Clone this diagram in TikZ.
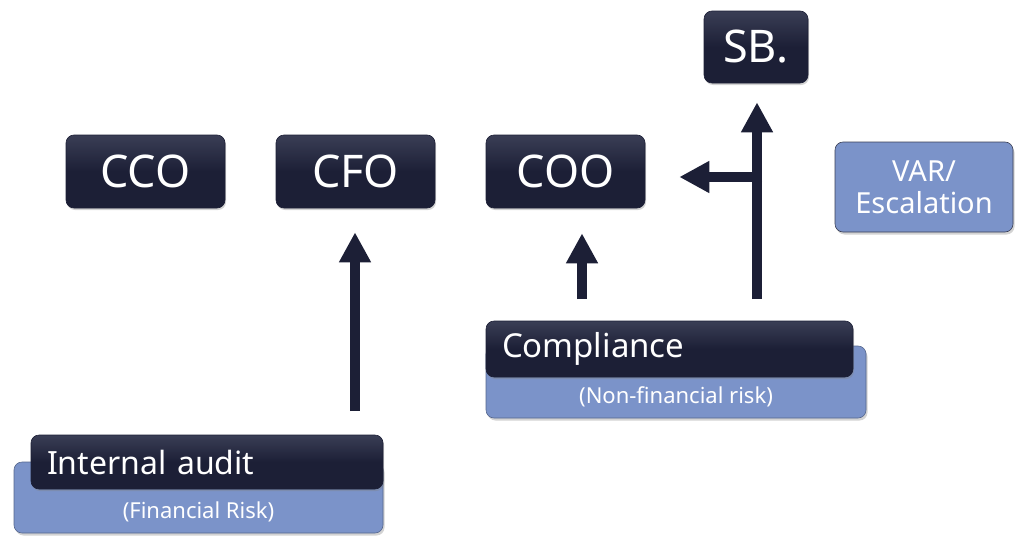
\documentclass[tikz,border=0pt]{standalone}
\usepackage{fontspec}
\setmainfont{Noto Sans}
\usetikzlibrary{arrows.meta,shadows,calc}
\definecolor{dk}{HTML}{1C1F36}
\definecolor{dktop}{HTML}{3A3E55}
\definecolor{lb}{HTML}{7B93C9}
\definecolor{edge}{HTML}{3A3F55}
\tikzset{
  dkbox/.style={rounded corners=8pt, top color=dktop, bottom color=dk, middle color=dk, shading angle=0, draw=dk, line width=0.6pt, text=white, inner sep=0pt,
    drop shadow={opacity=0.35, shadow xshift=1pt, shadow yshift=-2pt}},
  lbbox/.style={rounded corners=8pt, fill=lb, draw=lb!70!black, line width=0.6pt, text=white, inner sep=0pt,
    drop shadow={opacity=0.35, shadow xshift=1.5pt, shadow yshift=-2.5pt}},
  bigtxt/.style={font=\fontsize{45}{50}\selectfont},
  midtxt/.style={font=\fontsize{33}{38}\selectfont},
  smalltxt/.style={font=\fontsize{22}{26}\selectfont, text=white},
  uparrow/.style={draw=dk, line width=10pt, -{Triangle[width=30pt,length=30pt]}}
}
\begin{document}
\begin{tikzpicture}[x=1pt,y=-1pt]
\useasboundingbox (0,0) rectangle (1024,546);
% top row
\node[dkbox, bigtxt, minimum width=159pt, minimum height=73pt] (cco) at (145.5,171.5) {CCO};
\node[dkbox, bigtxt, minimum width=159pt, minimum height=73pt] (cfo) at (355.5,171.5) {CFO};
\node[dkbox, bigtxt, minimum width=159pt, minimum height=73pt] (coo) at (565.5,171.5) {COO};
\node[dkbox, bigtxt, minimum width=104pt, minimum height=72pt] (sb) at (756,47) {SB.};
\node[lbbox, draw=edge, font=\fontsize{29}{32}\selectfont, align=center, minimum width=178pt, minimum height=90pt] (var) at (924,187) {VAR/\\Escalation};
% compliance group
\node[lbbox, minimum width=380pt, minimum height=72pt] (nfbox) at (676,382) {};
\node[smalltxt] (nftext) at (676,397) {(Non-financial risk)};
\node[dkbox, midtxt, minimum width=367pt, minimum height=56pt, text width=335pt, align=left] (comp) at (669.5,349) {Compliance};
% internal audit group
\node[lbbox, minimum width=369pt, minimum height=71pt] (fbox) at (198.5,497.5) {};
\node[smalltxt] (ftext) at (198.5,512) {(Financial Risk)};
\node[dkbox, font=\fontsize{32}{37}\selectfont, minimum width=352pt, minimum height=54pt, text width=320pt, align=left] (ia) at (207,462) {Internal audit};
% connectors
\coordinate (a1) at (355,411);
\coordinate (a2) at (582,299);
\coordinate (a3) at (757,299);
\coordinate (br) at (762,177);
\draw[uparrow, shorten >=24pt] (a1) -- (cfo.south -| a1);
\draw[uparrow, shorten >=25pt] (a2) -- (coo.south -| a2);
\draw[uparrow, shorten >=19pt] (a3) -- (sb.south -| a3);
\draw[uparrow, shorten >=34pt] (br) -- (coo.east |- br);
\end{tikzpicture}
\end{document}
